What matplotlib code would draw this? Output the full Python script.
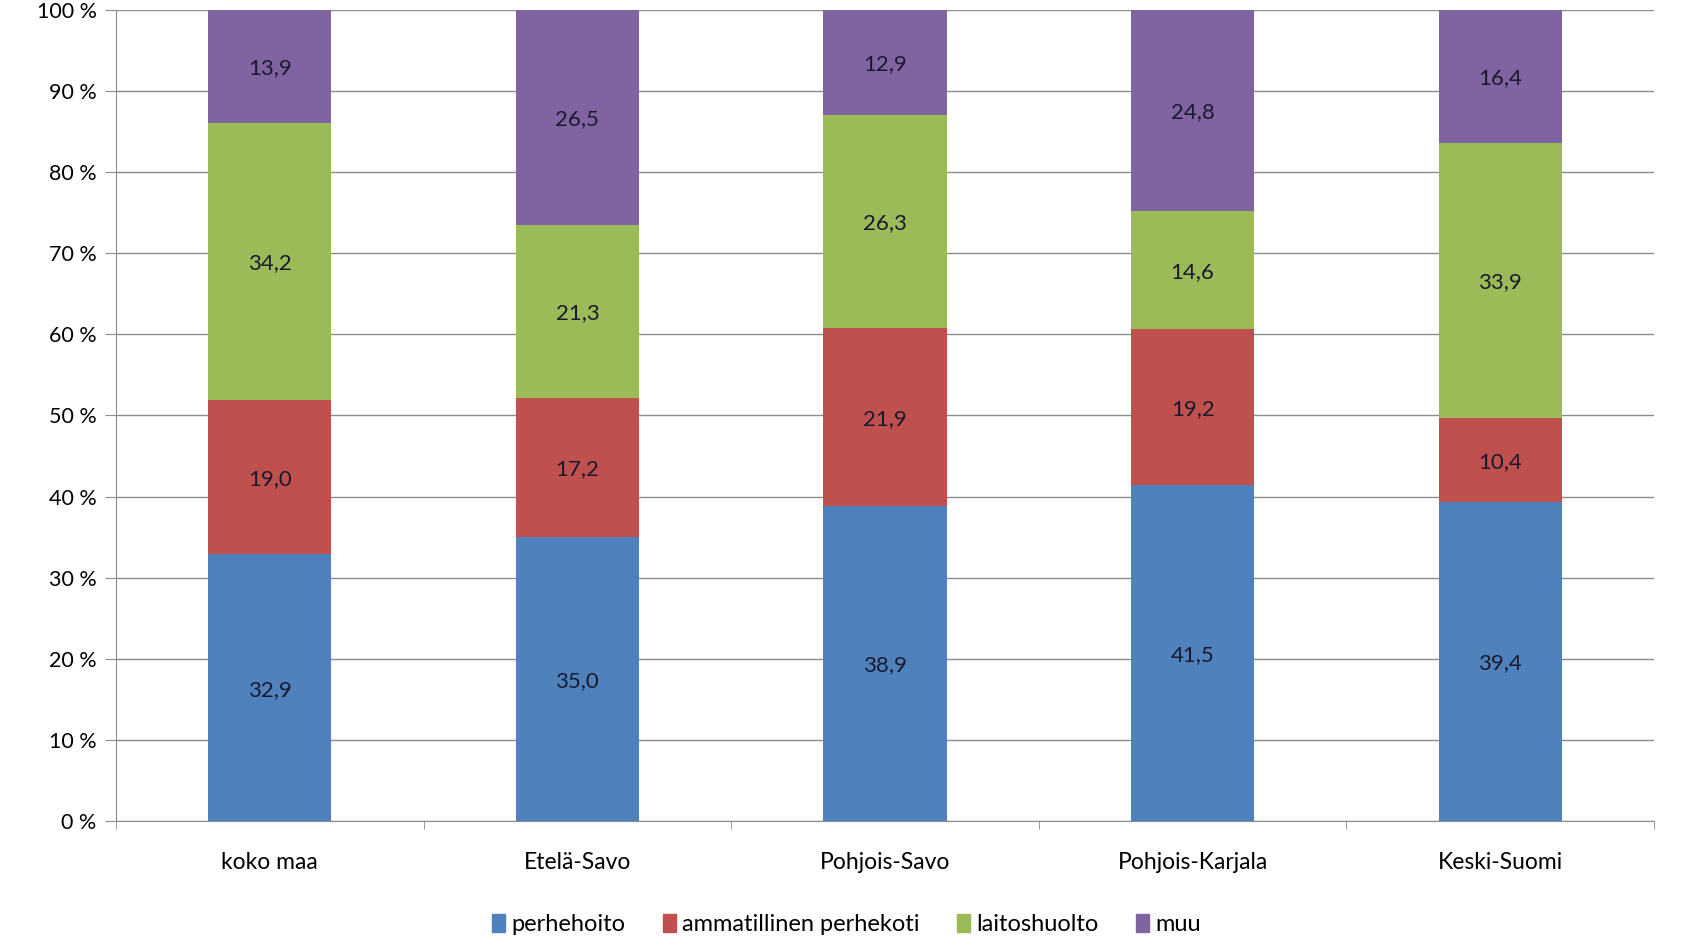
import numpy as np
import matplotlib.pyplot as plt
from matplotlib.patches import Patch

plt.rcParams['font.family'] = ['Lato', 'DejaVu Sans']

alueet = ['koko maa', 'Etelä-Savo', 'Pohjois-Savo', 'Pohjois-Karjala', 'Keski-Suomi']
sarjat = ['perhehoito', 'ammatillinen perhekoti', 'laitoshuolto', 'muu']
perhehoito = [32.9, 35.0, 38.9, 41.5, 39.4]
ammatillinen = [19.0, 17.2, 21.9, 19.2, 10.4]
laitoshuolto = [34.2, 21.3, 26.3, 14.6, 33.9]
muu = [13.9, 26.5, 12.9, 24.8, 16.4]
varit = ['#4F81BD', '#C0504D', '#9BBB59', '#8064A2']

data = np.array([perhehoito, ammatillinen, laitoshuolto, muu])
osuus = data / data.sum(axis=0) * 100  # 100 % pinottu

fig = plt.figure(figsize=(16.83, 9.5), dpi=100)
ax = fig.add_axes([0.0689, 0.1358, 0.9139, 0.8537])

x = np.arange(len(alueet))
pohja = np.zeros(len(alueet))
for i in range(len(sarjat)):
    ax.bar(x, osuus[i], 0.4, bottom=pohja, color=varit[i], zorder=3)
    for j in range(len(alueet)):
        ax.text(x[j], pohja[j] + osuus[i][j] / 2 - 0.25, ('%.1f' % data[i][j]).replace('.', ','),
                ha='center', va='center', fontsize=16, color='#1a1a2e', zorder=4)
    pohja += osuus[i]

ax.set_xlim(-0.5, len(alueet) - 0.5)
ax.set_ylim(0, 100)
ax.set_yticks(np.arange(0, 101, 10))
ax.set_yticklabels(['%d %%' % v for v in range(0, 101, 10)], fontsize=15.5)
ax.yaxis.grid(True, color='#8c8c8c', linewidth=1, zorder=0)

ax.set_xticks(x)
ax.set_xticklabels(alueet, fontsize=16.5)
ax.set_xticks(np.arange(-0.5, len(alueet)), minor=True)
ax.tick_params(axis='x', which='major', length=0, pad=22)
ax.tick_params(axis='x', which='minor', length=6, color='#8c8c8c')
ax.tick_params(axis='y', length=8, color='#8c8c8c', pad=6)

for s in ['top', 'right']:
    ax.spines[s].set_visible(False)
for s in ['left', 'bottom']:
    ax.spines[s].set_color('#8c8c8c')

kahvat = [Patch(color=varit[i]) for i in range(len(sarjat))]
fig.legend(kahvat, sarjat, loc='center', bbox_to_anchor=(0.503, 0.027), ncol=4,
           frameon=False, fontsize=17, handlelength=0.55, handleheight=0.8,
           handletextpad=0.25, columnspacing=1.6)

fig.savefig('out.png', dpi=100)
